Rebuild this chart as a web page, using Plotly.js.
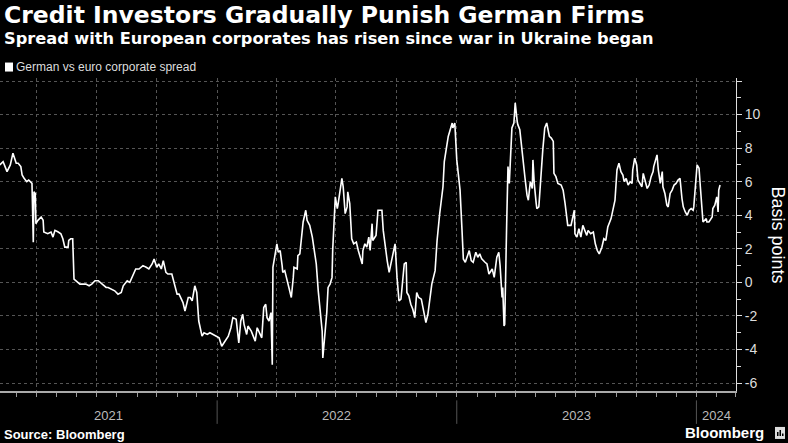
<!DOCTYPE html>
<html>
<head>
<meta charset="utf-8">
<script src="https://cdn.plot.ly/plotly-3.0.1.min.js"></script>
<style>
  html, body { margin: 0; padding: 0; background: #000; }
  #chart { width: 788px; height: 443px; }
</style>
</head>
<body>
<div id="chart"></div>
<script>
var dates = [
  '2021-02-04','2021-02-09','2021-02-12','2021-02-15','2021-02-20','2021-02-24','2021-03-01','2021-03-04','2021-03-08','2021-03-10',
  '2021-03-13','2021-03-17','2021-03-20','2021-03-25','2021-03-27','2021-03-28','2021-03-30','2021-03-31','2021-04-03','2021-04-08',
  '2021-04-11','2021-04-12','2021-04-18','2021-04-23','2021-04-26','2021-04-29','2021-05-04','2021-05-08','2021-05-11','2021-05-14',
  '2021-05-19','2021-05-20','2021-05-23','2021-05-26','2021-05-28','2021-06-02','2021-06-06','2021-06-11','2021-06-15','2021-06-20',
  '2021-06-24','2021-06-29','2021-07-04','2021-07-10','2021-07-16','2021-07-19','2021-07-25','2021-07-29','2021-08-03','2021-08-08',
  '2021-08-11','2021-08-17','2021-08-21','2021-08-26','2021-08-30','2021-09-04','2021-09-10','2021-09-15','2021-09-19','2021-09-24',
  '2021-09-27','2021-10-01','2021-10-04','2021-10-08','2021-10-11','2021-10-15','2021-10-18','2021-10-24','2021-10-27','2021-11-01',
  '2021-11-04','2021-11-08','2021-11-10','2021-11-13','2021-11-18','2021-11-21','2021-11-24','2021-11-28','2021-12-01','2021-12-04',
  '2021-12-09','2021-12-12','2021-12-17','2021-12-21','2021-12-26','2022-01-01','2022-01-04','2022-01-08','2022-01-13','2022-01-18',
  '2022-01-22','2022-01-25','2022-01-30','2022-01-31','2022-02-03','2022-02-06','2022-02-09','2022-02-11','2022-02-15','2022-02-17',
  '2022-02-22','2022-02-25','2022-02-28','2022-03-03','2022-03-07','2022-03-10','2022-03-13','2022-03-16','2022-03-18','2022-03-21',
  '2022-03-24','2022-03-26','2022-03-27','2022-03-30','2022-04-02','2022-04-04','2022-04-07','2022-04-10','2022-04-11','2022-04-14',
  '2022-04-17','2022-04-19','2022-04-22','2022-04-24','2022-04-27','2022-04-28','2022-05-03','2022-05-04','2022-05-07','2022-05-10',
  '2022-05-12','2022-05-16','2022-05-18','2022-05-22','2022-05-26','2022-05-29','2022-06-01','2022-06-04','2022-06-07','2022-06-10',
  '2022-06-11','2022-06-14','2022-06-17','2022-06-19','2022-06-22','2022-06-25','2022-06-26','2022-06-30','2022-07-03','2022-07-04',
  '2022-07-07','2022-07-10','2022-07-12','2022-07-15','2022-07-18','2022-07-19','2022-07-22','2022-07-25','2022-07-28','2022-08-01',
  '2022-08-04','2022-08-10','2022-08-11','2022-08-14','2022-08-17','2022-08-20','2022-08-22','2022-08-25','2022-08-26','2022-08-31',
  '2022-09-03','2022-09-09','2022-09-11','2022-09-14','2022-09-17','2022-09-20','2022-09-24','2022-09-29','2022-10-02','2022-10-05',
  '2022-10-08','2022-10-11','2022-10-13','2022-10-16','2022-10-17','2022-10-20','2022-10-23','2022-10-26','2022-10-29','2022-11-01',
  '2022-11-04','2022-11-08','2022-11-11','2022-11-15','2022-11-18','2022-11-21','2022-11-24','2022-11-29','2022-12-02','2022-12-06',
  '2022-12-11','2022-12-13','2022-12-17','2022-12-19','2022-12-22','2022-12-25','2022-12-26','2022-12-29','2023-01-01','2023-01-03',
  '2023-01-06','2023-01-09','2023-01-11','2023-01-14','2023-01-17','2023-01-20','2023-01-23','2023-01-26','2023-01-30','2023-02-02',
  '2023-02-05','2023-02-08','2023-02-13','2023-02-16','2023-02-19','2023-02-24','2023-02-27','2023-03-03','2023-03-06','2023-03-08',
  '2023-03-11','2023-03-12','2023-03-14','2023-03-15','2023-03-18','2023-03-20','2023-03-22','2023-03-25','2023-03-26','2023-03-29',
  '2023-03-31','2023-04-03','2023-04-04','2023-04-07','2023-04-10','2023-04-12','2023-04-15','2023-04-18','2023-04-20','2023-04-23',
  '2023-04-26','2023-04-27','2023-04-29','2023-05-02','2023-05-03','2023-05-06','2023-05-09','2023-05-12','2023-05-15','2023-05-18',
  '2023-05-22','2023-05-25','2023-05-28','2023-05-29','2023-06-01','2023-06-04','2023-06-09','2023-06-12','2023-06-15','2023-06-18',
  '2023-06-19','2023-06-24','2023-06-27','2023-06-29','2023-06-30','2023-07-03','2023-07-06','2023-07-09','2023-07-12','2023-07-15',
  '2023-07-18','2023-07-20','2023-07-24','2023-07-28','2023-07-31','2023-08-03','2023-08-06','2023-08-10','2023-08-13','2023-08-16',
  '2023-08-19','2023-08-24','2023-08-27','2023-08-30','2023-09-02','2023-09-05','2023-09-08','2023-09-11','2023-09-13','2023-09-16',
  '2023-09-19','2023-09-22','2023-09-25','2023-09-26','2023-09-29','2023-10-02','2023-10-04','2023-10-07','2023-10-10','2023-10-12',
  '2023-10-15','2023-10-18','2023-10-21','2023-10-24','2023-10-27','2023-10-28','2023-11-02','2023-11-04','2023-11-07','2023-11-10',
  '2023-11-11','2023-11-14','2023-11-17','2023-11-19','2023-11-22','2023-11-25','2023-11-28','2023-12-01','2023-12-04','2023-12-07',
  '2023-12-10','2023-12-12','2023-12-15','2023-12-18','2023-12-21','2023-12-24','2023-12-27','2023-12-28','2024-01-02','2024-01-05',
  '2024-01-07','2024-01-10','2024-01-11','2024-01-16','2024-01-17','2024-01-20','2024-01-25','2024-01-26','2024-01-29','2024-02-01',
  '2024-02-03','2024-02-04','2024-02-06'
];

var spread = [
  7.0, 7.2, 6.9, 6.6, 7.0, 7.7, 7.1, 7.1, 6.9, 6.4,
  6.2, 6.0, 6.1, 5.9, 2.4, 5.4, 5.3, 3.5, 3.7, 3.9,
  3.7, 3.0, 2.9, 3.0, 2.7, 3.1, 3.0, 2.9, 2.6, 2.1,
  2.1, 2.5, 2.6, 2.6, 0.2, 0.0, -0.1, -0.1, -0.1, -0.2,
  -0.1, 0.1, 0.1, -0.1, -0.3, -0.3, -0.4, -0.5, -0.7, -0.6,
  -0.2, 0.1, 0.0, 0.4, 0.8, 0.8, 1.0, 0.9, 0.8, 1.1,
  1.4, 0.9, 1.1, 0.8, 1.3, 0.6, 0.5, 0.5, 0.0, -0.7,
  -0.7, -1.0, -1.2, -1.7, -0.9, -0.9, -1.1, -0.2, -0.6, -2.3,
  -3.2, -3.0, -3.1, -3.0, -3.1, -3.2, -3.3, -3.8, -3.5, -3.2,
  -2.7, -2.1, -2.2, -2.5, -3.6, -2.3, -1.9, -2.5, -3.1, -2.6,
  -2.9, -3.2, -3.5, -2.7, -3.0, -3.3, -1.5, -1.3, -2.1, -2.3,
  -1.8, -4.9, 0.9, 1.7, 2.3, 1.8, 1.9, 1.0, 0.6, 0.7,
  0.2, -0.1, -0.5, -0.9, 0.3, 0.9, 0.8, 1.6, 1.7, 2.9,
  3.6, 4.3, 3.7, 3.4, 2.7, 1.9, 1.1, -0.5, -1.6, -2.9,
  -4.5, -3.1, -1.8, -0.3, -0.1, 0.3, 1.9, 5.1, 4.4, 4.6,
  5.5, 6.2, 5.7, 4.1, 4.5, 5.4, 4.7, 2.6, 2.3, 2.4,
  1.9, 1.1, 1.9, 2.3, 2.1, 2.7, 1.9, 3.5, 2.5, 2.8,
  4.3, 4.3, 3.1, 2.1, 1.3, 0.6, 1.3, 2.3, 0.3, -1.1,
  -1.0, 0.2, 1.1, 1.2, -0.6, -0.8, -1.3, -1.6, -2.1, -0.6,
  -0.9, -1.0, -1.7, -2.4, -1.9, -1.0, -0.1, 0.7, 2.5, 4.1,
  5.7, 7.2, 8.3, 8.7, 9.1, 9.5, 9.2, 9.5, 7.3, 6.7,
  5.5, 3.1, 1.4, 1.2, 1.6, 1.9, 1.3, 1.2, 1.8, 1.5,
  1.7, 1.4, 1.2, 1.1, 0.5, 0.8, 0.3, 1.5, 1.8, 1.0,
  -0.9, -0.3, -2.6, -2.5, 3.5, 6.9, 5.9, 8.3, 9.2, 9.5,
  10.7, 9.6, 9.4, 9.1, 7.9, 7.2, 6.2, 5.2, 4.9, 6.0,
  5.6, 7.3, 5.9, 4.7, 4.4, 4.5, 6.3, 7.9, 9.2, 9.5,
  8.7, 8.6, 8.4, 6.5, 6.3, 5.9, 5.8, 5.5, 4.7, 3.8,
  3.4, 3.4, 4.0, 4.3, 2.9, 2.7, 3.2, 2.7, 3.4, 3.1,
  2.8, 3.1, 2.9, 3.0, 2.3, 1.9, 1.7, 2.1, 2.6, 2.5,
  3.3, 3.8, 4.3, 4.9, 6.7, 7.1, 6.6, 6.4, 6.0, 6.2,
  5.8, 6.0, 5.9, 6.7, 7.4, 7.0, 6.1, 5.9, 5.7, 6.5,
  6.1, 5.6, 5.8, 6.3, 6.6, 6.9, 7.6, 6.7, 5.9, 6.6,
  5.7, 5.3, 4.6, 4.5, 5.3, 5.5, 5.8, 5.9, 6.1, 6.2,
  5.0, 4.5, 4.2, 4.0, 4.3, 4.4, 4.3, 4.5, 7.0, 6.8,
  5.7, 3.8, 3.6, 3.8, 3.6, 3.6, 3.9, 4.4, 4.6, 5.1,
  4.2, 5.5, 5.8
];

var yearLabels = ['2021', '2022', '2023', '2024'];
var yearLabelDates = ['2021-07-20', '2022-07-02', '2023-07-02', '2024-01-31'];
var yearStarts = ['2022-01-01', '2023-01-01', '2024-01-01'];
var yTicks = [-6, -4, -2, 0, 2, 4, 6, 8, 10, 12];
var yTickText = ['-6', '-4', '-2', '0', '2', '4', '6', '8', '10', ''];

var FONT = 'Liberation Sans, Arial, sans-serif';
var HEAD = 'DejaVu Sans, sans-serif';

var trace = {
  x: dates,
  y: spread,
  type: 'scatter',
  mode: 'lines',
  name: 'German vs euro corporate spread',
  line: { color: '#ffffff', width: 1.6 },
  hoverinfo: 'x+y'
};

// texts placed in paper coordinates (plot area spans 78px..391px vertically)
var annotations = [
  { xref: 'paper', yref: 'paper', x: 0, y: 1.201, xanchor: 'left', yanchor: 'middle', xshift: 2,
    text: '<b>Credit Investors Gradually Punish German Firms</b>', showarrow: false,
    font: { family: HEAD, size: 23.5, color: '#ffffff' } },
  { xref: 'paper', yref: 'paper', x: 0, y: 1.125, xanchor: 'left', yanchor: 'middle', xshift: 2,
    text: '<b>Spread with European corporates has risen since war in Ukraine began</b>', showarrow: false,
    font: { family: HEAD, size: 16.2, color: '#ffffff' } },
  { xref: 'paper', yref: 'paper', x: 0, y: 1.035, xanchor: 'left', yanchor: 'middle', xshift: 14,
    text: 'German vs euro corporate spread', showarrow: false,
    font: { family: FONT, size: 12, color: '#dddddd' } },
  { xref: 'paper', yref: 'paper', x: 1, y: 0.5, xanchor: 'center', yanchor: 'middle',
    text: 'Basis points', showarrow: false, textangle: 90, xshift: 42,
    font: { family: FONT, size: 18, color: '#ffffff' } },
  { xref: 'paper', yref: 'paper', x: 0, y: -0.14, xanchor: 'left', yanchor: 'middle', xshift: 2,
    text: '<b>Source: Bloomberg</b>', showarrow: false,
    font: { family: FONT, size: 13, color: '#ffffff' } },
  { xref: 'paper', yref: 'paper', x: 1, y: -0.134, xanchor: 'right', yanchor: 'middle', xshift: 30,
    text: 'Bloomberg', showarrow: false,
    font: { family: FONT, size: 15, color: '#ffffff', weight: 600 } }
];
yearLabels.forEach(function (lab, i) {
  annotations.push({
    xref: 'x', yref: 'paper', x: yearLabelDates[i], y: -0.077, xanchor: 'center', yanchor: 'middle',
    text: lab, showarrow: false,
    font: { family: FONT, size: 13, color: '#bbbbbb' }
  });
});

var shapes = [
  // legend swatch
  { type: 'rect', xref: 'paper', yref: 'paper', xsizemode: 'pixel', ysizemode: 'pixel',
    xanchor: 0, yanchor: 1.035, x0: 5, x1: 13, y0: -4.5, y1: 4.5,
    fillcolor: '#ffffff', line: { width: 0 } },
  // logo mark
  { type: 'rect', xref: 'paper', yref: 'paper', xsizemode: 'pixel', ysizemode: 'pixel',
    xanchor: 1, yanchor: -0.134, x0: 39, x1: 49, y0: -6, y1: 6,
    fillcolor: '#dddddd', line: { width: 0 } },
  { type: 'rect', xref: 'paper', yref: 'paper', xsizemode: 'pixel', ysizemode: 'pixel',
    xanchor: 1, yanchor: -0.134, x0: 41, x1: 42.5, y0: -3, y1: 1,
    fillcolor: '#000000', line: { width: 0 } },
  { type: 'rect', xref: 'paper', yref: 'paper', xsizemode: 'pixel', ysizemode: 'pixel',
    xanchor: 1, yanchor: -0.134, x0: 43.5, x1: 45, y0: -3, y1: 3,
    fillcolor: '#000000', line: { width: 0 } },
  { type: 'rect', xref: 'paper', yref: 'paper', xsizemode: 'pixel', ysizemode: 'pixel',
    xanchor: 1, yanchor: -0.134, x0: 46, x1: 47.5, y0: -3, y1: -0.5,
    fillcolor: '#000000', line: { width: 0 } }
];
yearStarts.forEach(function (d) {
  shapes.push({ type: 'line', xref: 'x', yref: 'paper', x0: d, x1: d, y0: -0.03, y1: -0.105,
    line: { color: '#555555', width: 1 } });
});

var layout = {
  width: 788,
  height: 443,
  paper_bgcolor: '#000000',
  plot_bgcolor: '#000000',
  margin: { l: 0, r: 52, t: 78, b: 52 },
  showlegend: false,
  xaxis: {
    type: 'date',
    range: ['2021-02-04 07:00', '2024-03-01 07:00'],
    tick0: '2021-01-01',
    dtick: 'M3',
    showticklabels: false,
    ticks: 'outside',
    ticklen: 4,
    tickcolor: '#999999',
    showgrid: true,
    gridcolor: '#555555',
    griddash: 'dot',
    gridwidth: 1,
    minor: { dtick: 'M1', tick0: '2021-01-01', ticks: 'outside', ticklen: 4, tickcolor: '#999999', showgrid: false },
    showline: true,
    linecolor: '#aaaaaa',
    linewidth: 2,
    zeroline: false,
    fixedrange: true
  },
  yaxis: {
    side: 'right',
    range: [-6.47, 12.18],
    tickmode: 'array',
    tickvals: yTicks,
    ticktext: yTickText,
    ticks: 'outside',
    ticklen: 5,
    tickcolor: '#dddddd',
    minor: { dtick: 1, tick0: 0, ticks: 'outside', ticklen: 4, tickcolor: '#dddddd', showgrid: false },
    tickfont: { family: FONT, size: 14, color: '#dddddd' },
    showgrid: true,
    gridcolor: '#555555',
    griddash: 'dot',
    gridwidth: 1,
    showline: true,
    linecolor: '#dddddd',
    linewidth: 1,
    zeroline: false,
    fixedrange: true
  },
  annotations: annotations,
  shapes: shapes
};

Plotly.newPlot('chart', [trace], layout, { displayModeBar: false, staticPlot: true });
</script>
</body>
</html>
